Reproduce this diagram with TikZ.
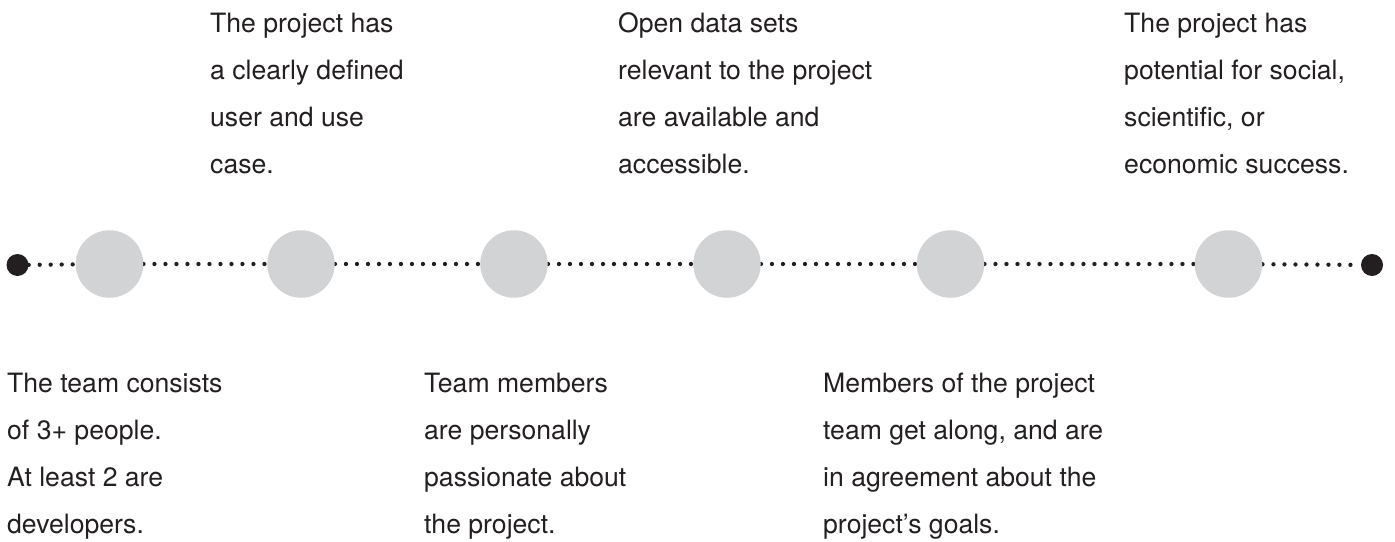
\documentclass[tikz,border=0pt]{standalone}
\usepackage{fontspec}
\setmainfont{TeX Gyre Heros}
\usetikzlibrary{backgrounds}
\definecolor{ink}{HTML}{231F20}
\definecolor{disc}{HTML}{D1D3D4}
\newcommand{\blocktext}[1]{\vtop{\fontsize{26.6}{47}\selectfont\baselineskip=47pt #1}}
\begin{document}
\begin{tikzpicture}[x=1pt,y=1pt,
  milestone/.style={circle,fill=disc,draw=none,minimum size=67.5pt,inner sep=0pt},
  enddot/.style={circle,fill=ink,draw=none,minimum size=22pt,inner sep=0pt},
  caption/.style={anchor=base west,inner sep=0pt,text=ink},
  dotline/.style={draw=ink,line width=4.3pt,line cap=round,dash pattern=on 0pt off 11pt}]
\useasboundingbox (0,0) rectangle (1395,-541);
\node[enddot] (L) at (17.5,-265) {};
\node[enddot] (R) at (1372,-265) {};
\node[milestone] (c1) at (109.5,-264) {};
\node[milestone] (c2) at (301,-264) {};
\node[milestone] (c3) at (514,-264) {};
\node[milestone] (c4) at (727,-264) {};
\node[milestone] (c5) at (950.5,-264) {};
\node[milestone] (c6) at (1228.5,-264) {};
\begin{scope}[on background layer]
\draw[dotline] (L) -- (c1);
\draw[dotline] (c1) -- (c2);
\draw[dotline] (c2) -- (c3);
\draw[dotline] (c3) -- (c4);
\draw[dotline] (c4) -- (c5);
\draw[dotline] (c5) -- (c6);
\draw[dotline] (c6) -- (R);
\end{scope}
\node[caption] (t1) at (210,-32) {\blocktext{\hbox{The project has}\hbox{a clearly defined}\hbox{user and use}\hbox{case.}}};
\node[caption] (t2) at (618,-32) {\blocktext{\hbox{Open data sets}\hbox{relevant to the project}\hbox{are available and}\hbox{accessible.}}};
\node[caption] (t3) at (1124,-32) {\blocktext{\hbox{The project has}\hbox{potential for social,}\hbox{scientific, or}\hbox{economic success.}}};
\node[caption] (b1) at (7,-392) {\blocktext{\hbox{The team consists}\hbox{of 3+ people.}\hbox{At least 2 are}\hbox{developers.}}};
\node[caption] (b2) at (424,-392) {\blocktext{\hbox{Team members}\hbox{are personally}\hbox{passionate about}\hbox{the project.}}};
\node[caption] (b3) at (823,-392) {\blocktext{\hbox{Members of the project}\hbox{team get along, and are}\hbox{in agreement about the}\hbox{project’s goals.}}};
\end{tikzpicture}
\end{document}
